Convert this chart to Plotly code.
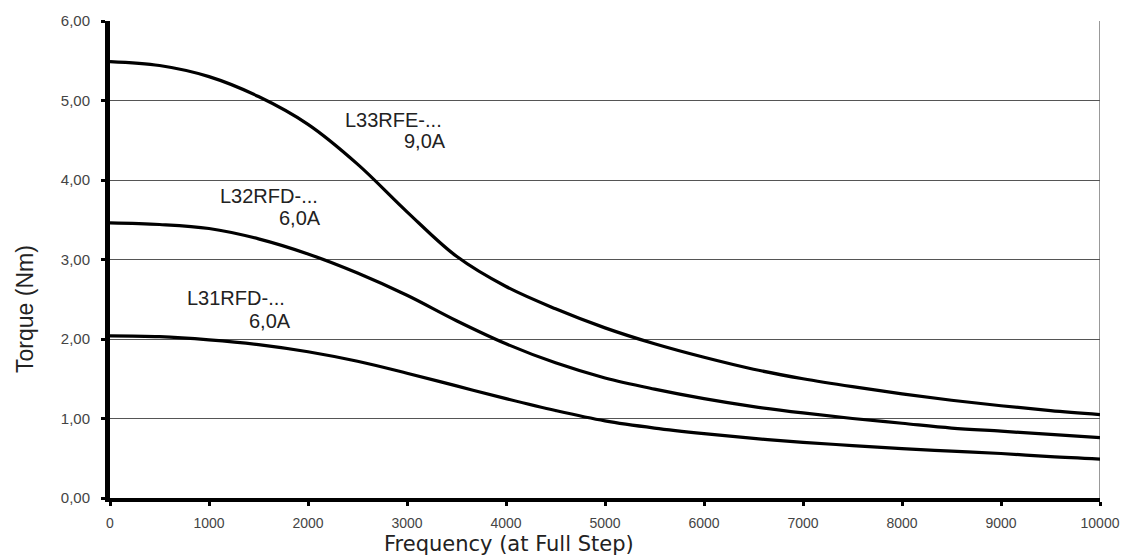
import plotly.graph_objects as go

freq = [0, 500, 1000, 1500, 2000, 2500, 3000, 3500, 4000, 4500, 5000,
        5500, 6000, 6500, 7000, 7500, 8000, 8500, 9000, 9500, 10000]
l33rfe = [5.49, 5.44, 5.30, 5.05, 4.70, 4.20, 3.60, 3.04, 2.66, 2.38, 2.14,
          1.94, 1.77, 1.62, 1.50, 1.40, 1.31, 1.23, 1.16, 1.10, 1.05]
l32rfd = [3.46, 3.44, 3.39, 3.26, 3.07, 2.83, 2.55, 2.23, 1.94, 1.70, 1.51,
          1.37, 1.25, 1.15, 1.07, 1.00, 0.94, 0.88, 0.84, 0.80, 0.76]
l31rfd = [2.04, 2.03, 1.99, 1.93, 1.84, 1.72, 1.57, 1.41, 1.25, 1.10, 0.97,
          0.88, 0.81, 0.75, 0.70, 0.66, 0.62, 0.59, 0.56, 0.52, 0.49]

x_ticks = [0, 1000, 2000, 3000, 4000, 5000, 6000, 7000, 8000, 9000, 10000]
x_ticktext = ["0", "1000", "2000", "3000", "4000", "5000", "6000", "7000", "8000", "9000", "10000"]
y_ticks = [0, 1, 2, 3, 4, 5, 6]
y_ticktext = ["0,00", "1,00", "2,00", "3,00", "4,00", "5,00", "6,00"]

label_names = ["L33RFE-...", "9,0A", "L32RFD-...", "6,0A", "L31RFD-...", "6,0A"]
label_x = [2356, 2952, 1092, 1689, 758, 1385]
label_y = [4.755, 4.494, 3.797, 3.523, 2.515, 2.228]

fig = go.Figure()
for name, ys in [("L33RFE", l33rfe), ("L32RFD", l32rfd), ("L31RFD", l31rfd)]:
    fig.add_trace(go.Scatter(x=freq, y=ys, mode="lines", name=name,
                             line=dict(color="black", width=3.2, shape="spline", smoothing=1.0),
                             showlegend=False))

for t, xv, yv in zip(label_names, label_x, label_y):
    fig.add_annotation(x=xv, y=yv, text=t, showarrow=False, xanchor="left", yanchor="middle",
                       font=dict(family="Liberation Sans, Arial", size=20, color="#222"))

# right border
fig.add_shape(type="line", x0=10000, x1=10000, y0=0, y1=6, xref="x", yref="y",
              line=dict(color="#999", width=2), layer="below")

fig.add_annotation(text="Frequency (at Full Step)", xref="paper", yref="paper",
                   x=0.403, y=0, yanchor="middle", xanchor="center", yshift=-46,
                   showarrow=False, borderpad=0,
                   font=dict(family="DejaVu Sans, Arial", size=21, color="#222"))
fig.add_annotation(text="Torque (Nm)", xref="paper", yref="paper",
                   x=-0.086, y=0.396, xanchor="center", yanchor="middle", textangle=-90,
                   showarrow=False,
                   font=dict(family="Liberation Sans, Arial", size=23, color="#222"))

fig.update_layout(
    width=1135, height=558,
    margin=dict(l=110, r=35, t=16, b=60),
    paper_bgcolor="white", plot_bgcolor="white",
    font=dict(family="Liberation Sans, Arial", color="#444"),
)
fig.update_xaxes(range=[0, 10000], tickvals=x_ticks, ticktext=x_ticktext,
                 showgrid=False, zeroline=False, showline=True, linecolor="black", linewidth=4,
                 ticks="outside", ticklen=4, tickwidth=3, tickcolor="black",
                 tickfont=dict(size=14, color="#444"), ticklabelstandoff=5)
fig.update_yaxes(range=[0, 6], tickvals=y_ticks, ticktext=y_ticktext,
                 showgrid=True, gridcolor="#555", gridwidth=1, zeroline=False,
                 showline=True, linecolor="black", linewidth=5,
                 ticks="outside", ticklen=4, tickwidth=3, tickcolor="black",
                 tickfont=dict(size=15, color="#444"), ticklabelstandoff=8)

fig.write_html("out.html")
